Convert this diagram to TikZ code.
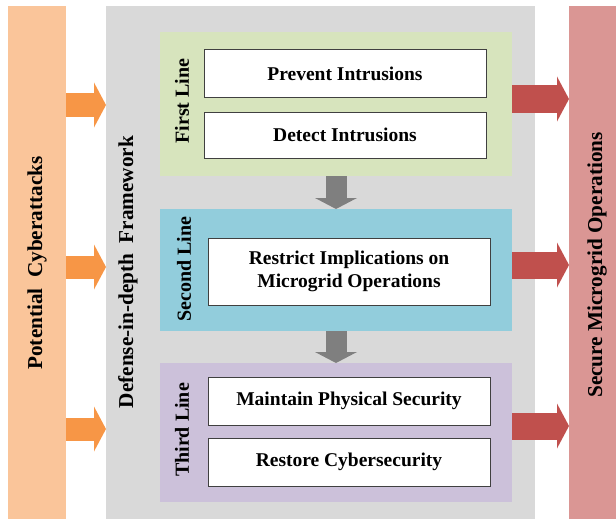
\documentclass[tikz,border=0pt]{standalone}
\usepackage{fontspec}
\setmainfont{Liberation Serif}
\usepackage{tikz}
\usetikzlibrary{arrows.meta,calc}

\definecolor{peach}{HTML}{FAC59A}
\definecolor{framegray}{HTML}{D9D9D9}
\definecolor{firstgreen}{HTML}{D7E4BD}
\definecolor{secondblue}{HTML}{92CDDC}
\definecolor{thirdpurple}{HTML}{CCC1DA}
\definecolor{securered}{HTML}{DA9694}
\definecolor{attackorange}{HTML}{F79646}
\definecolor{outred}{HTML}{C0504D}
\definecolor{nextgray}{HTML}{7F7F7F}
\definecolor{boxline}{HTML}{404040}

\begin{document}
\begin{tikzpicture}[x=1pt,y=-1pt,font=\fontsize{20}{23}\selectfont\bfseries]
			\tikzstyle{band}=[inner sep=0pt, outer sep=0pt]
			\tikzstyle{task}=[draw=boxline, fill=white, line width=1pt, minimum width=282pt, align=center, inner sep=0pt, outer sep=0pt, font=\fontsize{19.5}{23}\selectfont\bfseries]
			\tikzstyle{tag}=[rotate=90, inner sep=0pt]
			\tikzstyle{bigtag}=[tag, font=\fontsize{21.2}{25}\selectfont\bfseries]
			\tikzstyle{inarrow}=[draw=attackorange, line width=23pt, -{Triangle[length=12pt,width=45pt,line width=0pt]}]
			\tikzstyle{outarrow}=[draw=outred, line width=27pt, -{Triangle[length=12pt,width=45pt,line width=0pt]}]
			\tikzstyle{nextarrow}=[draw=nextgray, line width=21pt, -{Triangle[length=11pt,width=42pt,line width=0pt]}]

			\useasboundingbox (0,0) rectangle (616,519);

			\node (pc) [band, fill=peach, minimum width=58pt, minimum height=520pt] at (37,266) {};
			\node (ddf) [band, fill=framegray, minimum width=429pt, minimum height=520pt] at (320.5,266) {};
			\node (msm) [band, fill=securered, minimum width=58pt, minimum height=520pt] at (598,266) {};

			\node (first) [band, fill=firstgreen, minimum width=352pt, minimum height=144pt] at (336,104) {};
			\node (second) [band, fill=secondblue, minimum width=352pt, minimum height=122pt] at (336,270) {};
			\node (third) [band, fill=thirdpurple, minimum width=352pt, minimum height=139pt] at (336,432.5) {};

			\node (pclabel) [bigtag] at (37,263) {Potential\ \ Cyberattacks};
			\node (ddflabel) [bigtag] at (128,272) {Defense-in-depth\ \ Framework};
			\node (msmlabel) [bigtag] at (597,265) {Secure Microgrid Operations};
			\node (firstlabel) [tag] at (182,101) {First Line};
			\node (secondlabel) [tag] at (184,269) {Second Line};
			\node (thirdlabel) [tag] at (182,430) {Third Line};

			\node (prevent) [task, minimum height=47pt] at (345,73.5) {Prevent Intrusions};
			\node (detect) [task, minimum height=46pt] at (345,135) {Detect Intrusions};
			\node (restrict) [task, minimum height=67pt] at (349,271.5) {Restrict Implications on\\Microgrid Operations};
			\node (maintain) [task, minimum height=48pt] at (349,401) {Maintain Physical Security};
			\node (restore) [task, minimum height=48pt] at (349,462) {Restore Cybersecurity};

			\foreach \y in {105,267,429}
				\draw [inarrow] (pc.east |- 0,\y) -- (ddf.west |- 0,\y);
			\foreach \y in {99,265,426}
				\draw [outarrow] (first.east |- 0,\y) -- (msm.west |- 0,\y);

			\draw [nextarrow] (first.south) -- (second.north);
			\draw [nextarrow] (second.south) -- (third.north);
		\end{tikzpicture}
\end{document}
